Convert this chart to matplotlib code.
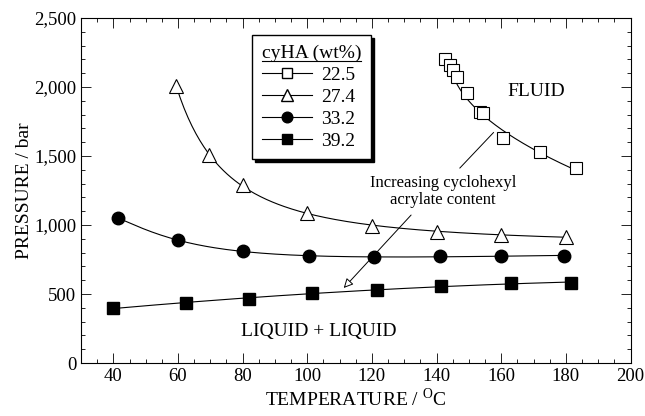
import numpy as np
import matplotlib.pyplot as plt
from matplotlib.ticker import MultipleLocator, FuncFormatter
from matplotlib.lines import Line2D

plt.rcParams['font.family'] = ['Liberation Serif', 'DejaVu Serif']
plt.rcParams['mathtext.fontset'] = 'custom'
plt.rcParams['mathtext.rm'] = 'Liberation Serif'

# cyHA 22.5 wt%
t_225 = [142.6, 144.0, 145.0, 146.3, 149.4, 153.4, 154.4, 160.5, 172.0, 183.0]
p_225 = [2200, 2160, 2120, 2070, 1955, 1820, 1810, 1630, 1530, 1410]
# cyHA 27.4 wt%
t_274 = [59.5, 69.5, 80.0, 100.0, 120.0, 140.0, 160.0, 180.0]
p_274 = [2005, 1510, 1290, 1085, 995, 950, 930, 915]
# cyHA 33.2 wt%
t_332 = [41.5, 60.0, 80.0, 100.5, 120.5, 141.0, 160.0, 179.5]
p_332 = [1050, 890, 810, 775, 768, 772, 775, 778]
# cyHA 39.2 wt%
t_392 = [40.0, 62.5, 82.0, 101.5, 121.5, 141.5, 163.0, 181.5]
p_392 = [400, 435, 465, 505, 530, 558, 580, 580]

labels = ['22.5', '27.4', '33.2', '39.2']

fig = plt.figure(figsize=(6.45, 4.16), dpi=100)
ax = fig.add_axes([0.1256, 0.1274, 0.852, 0.8293])

lw = 0.8
# smooth trend curves through the data
pp = np.linspace(min(p_225), max(p_225), 200)
c = np.polyfit(p_225, t_225, 2)
ax.plot(np.polyval(c, pp), pp, color='k', lw=lw)

tt = np.linspace(t_274[0], t_274[-1], 200)
c = np.polyfit(1 / (np.array(t_274) - 30), p_274, 2)
ax.plot(tt, np.polyval(c, 1 / (tt - 30)), color='k', lw=lw)

tt = np.linspace(t_332[0], t_332[-1], 200)
c = np.polyfit(1 / np.array(t_332), p_332, 3)
ax.plot(tt, np.polyval(c, 1 / tt), color='k', lw=lw)

tt = np.linspace(t_392[0], t_392[-1], 200)
c = np.polyfit(t_392, p_392, 2)
ax.plot(tt, np.polyval(c, tt), color='k', lw=lw)

ms = 9
ax.plot(t_225, p_225, 's', ms=ms, mfc='white', mec='k', mew=0.8)
ax.plot(t_274, p_274, '^', ms=ms + 1, mfc='white', mec='k', mew=0.8)
ax.plot(t_332, p_332, 'o', ms=ms, mfc='black', mec='k')
ax.plot(t_392, p_392, 's', ms=ms, mfc='black', mec='k')

ax.set_xlim(30, 200)
ax.set_ylim(0, 2500)
ax.xaxis.set_major_locator(MultipleLocator(20))
ax.xaxis.set_minor_locator(MultipleLocator(5))
ax.yaxis.set_major_locator(MultipleLocator(500))
ax.yaxis.set_minor_locator(MultipleLocator(100))
ax.yaxis.set_major_formatter(FuncFormatter(lambda v, p: f'{int(v):,}'))
ax.tick_params(which='both', direction='in', top=True, right=True, labelsize=13.5, width=0.6)
ax.tick_params(which='major', length=7)
ax.tick_params(which='minor', length=3)
for s in ax.spines.values():
    s.set_linewidth(0.8)

ax.set_xlabel('TEMPERATURE / $^{\\mathrm{O}}$C', fontsize=14, labelpad=2)
ax.set_ylabel('PRESSURE / bar', fontsize=14, labelpad=1)

ax.text(162, 1965, 'FLUID', fontsize=14, ha='left', va='center')
ax.text(103.5, 225, 'LIQUID + LIQUID', fontsize=14, ha='center', va='center')
ax.text(142, 1240, 'Increasing cyclohexyl\nacrylate content', fontsize=12,
        ha='center', va='center', linespacing=1.1)
ax.annotate('', xy=(110.7, 529), xytext=(132.7, 1087),
            arrowprops=dict(arrowstyle='-|>', fc='white', ec='k', lw=0.7,
                            mutation_scale=14))
ax.plot([147.2, 157.6], [1413, 1670], color='k', lw=0.7)

handles = [
    Line2D([], [], color='k', lw=lw, marker='s', ms=ms, mfc='white', mec='k'),
    Line2D([], [], color='k', lw=lw, marker='^', ms=ms + 1, mfc='white', mec='k'),
    Line2D([], [], color='k', lw=lw, marker='o', ms=ms, mfc='black', mec='k'),
    Line2D([], [], color='k', lw=lw, marker='s', ms=ms, mfc='black', mec='k'),
]
leg = ax.legend(handles, labels, title='cyHA (wt%)', loc='upper left',
                bbox_to_anchor=(0.311, 0.951), borderaxespad=0,
                fontsize=14, title_fontsize=14, handlelength=2.6,
                markerscale=0.85, alignment='left',
                labelspacing=0.22, handletextpad=0.45, borderpad=0.5,
                fancybox=False, framealpha=1, edgecolor='k',
                shadow={'color': 'black', 'alpha': 1})
leg.get_frame().set_linewidth(1.0)
leg._legend_handle_box.set_width(0)

fig.canvas.draw()
tb = leg.get_title().get_window_extent(fig.canvas.get_renderer())
inv = fig.transFigure.inverted()
(x0, y0), (x1, y1) = inv.transform([[tb.x0, tb.y0], [tb.x1, tb.y1]])
fig.add_artist(Line2D([x0, x1], [y0 + 0.002, y0 + 0.002], color='k', lw=0.8,
                      transform=fig.transFigure))

fig.savefig('out.png', dpi=100)
